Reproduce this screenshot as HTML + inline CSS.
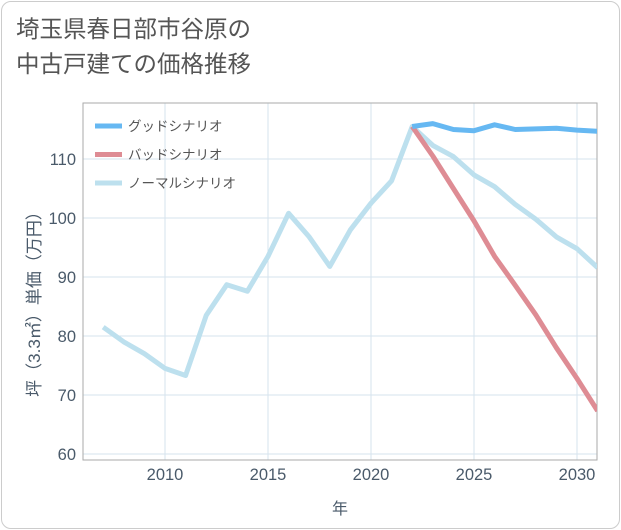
<!DOCTYPE html>
<html><head><meta charset="utf-8"><style>
html,body{margin:0;padding:0;background:#fff;}
#card{position:absolute;left:1px;top:1px;width:617px;height:526px;border:1px solid #ccc;border-radius:10px;background:#fff;}
#title{position:absolute;left:16px;top:12px;font:23.5px/35px "Liberation Sans","Noto Sans CJK JP",sans-serif;color:#555;}
svg{position:absolute;left:0;top:0;}
text{font-family:"Liberation Sans","Noto Sans CJK JP",sans-serif;}
</style></head><body>
<div id="card"></div>
<div id="title">埼玉県春日部市谷原の<br>中古戸建ての価格推移</div>
<svg id="chart" width="621" height="530"></svg>
<script>
const years=[2007,2008,2009,2010,2011,2012,2013,2014,2015,2016,2017,2018,2019,2020,2021,2022,2023,2024,2025,2026,2027,2028,2029,2030,2031];
const normal=[81.5,79,77,74.5,73.3,83.5,88.7,87.6,93.5,100.8,96.8,91.8,98,102.5,106.3,115.5,112.3,110.4,107.3,105.3,102.3,99.8,96.8,94.8,91.6];
const goodYears=[2022,2023,2024,2025,2026,2027,2028,2029,2030,2031];
const good=[115.5,116,115,114.8,115.8,115,115.1,115.2,114.9,114.7];
const bad=[115.5,110.5,105,99.5,93.5,88.6,83.6,78,72.8,67.3];
const xTicks=[2010,2015,2020,2025,2030];
const yTicks=[60,70,80,90,100,110];
const legendNames=["グッドシナリオ","バッドシナリオ","ノーマルシナリオ"];
const L=83,R=597,T=103,B=460;
const xs=y=>165+(y-2010)*20.6;
const ys=v=>454-(v-60)*5.9;
const svg=document.getElementById('chart');
const NS='http://www.w3.org/2000/svg';
function mk(t,a,parent){const e=document.createElementNS(NS,t);for(const k in a)e.setAttribute(k,a[k]);(parent||svg).appendChild(e);return e;}
let e;
xTicks.forEach(t=>{e=mk('line',{x1:xs(t),x2:xs(t),y1:T,y2:B,stroke:'#d5e3ee','stroke-width':1});


e=mk('text',{x:xs(t),y:480,'text-anchor':'middle','font-size':16.5,fill:'#4a5a6a'});e.textContent=t;

});
yTicks.forEach(t=>{e=mk('line',{x1:L,x2:R,y1:ys(t),y2:ys(t),stroke:'#d5e3ee','stroke-width':1});


e=mk('text',{x:76,y:ys(t)+6,'text-anchor':'end','font-size':16.5,fill:'#4a5a6a'});e.textContent=t;

});
e=mk('rect',{x:L,y:T,width:R-L,height:B-T,fill:'none',stroke:'#aaa','stroke-width':1});


e=mk('text',{x:340,y:514,'text-anchor':'middle','font-size':16,fill:'#4a5a6a'});e.textContent='年';


e=mk('text',{x:0,y:0,'text-anchor':'middle','font-size':17,fill:'#4a5a6a',transform:'translate(40,300) rotate(-90)'});e.textContent='坪（3.3㎡）単価（万円）';


const clip=mk('clipPath',{id:'cp'});mk('rect',{x:L,y:T,width:R-L,height:B-T},clip);
function line(xv,yv,color,name){const d=xv.map((x,i)=>(i?'L':'M')+xs(x).toFixed(1)+','+ys(yv[i]).toFixed(1)).join(' ');
const p=mk('path',{d:d,fill:'none',stroke:color,'stroke-width':5,'stroke-linejoin':'round','clip-path':'url(#cp)'});

}
line(years,normal,'#bde0ee','normal-scenario-line');
line(goodYears,bad,'#de8c94','bad-scenario-line');
line(goodYears,good,'#66b8f2','good-scenario-line');
const lc=['#66b8f2','#de8c94','#bde0ee'];
legendNames.forEach((n,i)=>{const y=126+i*28.5;
e=mk('line',{x1:95,x2:122,y1:y,y2:y,stroke:lc[i],'stroke-width':5});


e=mk('text',{x:128,y:y+5,'font-size':13.5,fill:'#555'});e.textContent=n;

});
</script>
</body></html>
